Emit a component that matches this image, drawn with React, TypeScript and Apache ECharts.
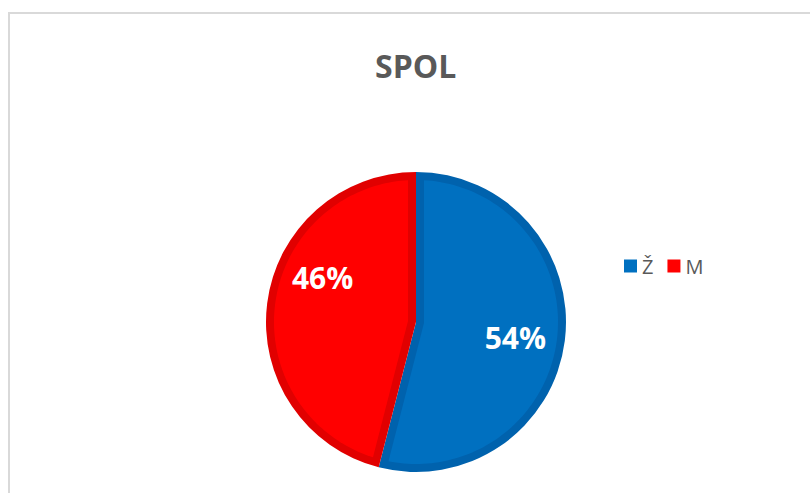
import React, { useEffect, useRef } from "react";
import * as echarts from "echarts";

const categories = ["Ž", "M"];
const values = [54, 46];
const titleText = "SPOL";

const fillColors = ["#0070C0", "#FF0000"];
const edgeColors = ["#0062AD", "#E10000"];

const CX = 416;
const CY = 322;
const R = 150;
const EDGE = 8;

export default function App() {
  const ref = useRef<HTMLDivElement>(null);

  useEffect(() => {
    if (!ref.current) return;
    const chart = echarts.init(ref.current, null, { renderer: "svg" });
    const total = values.reduce((a, b) => a + b, 0);

    const renderItem = (params: any, api: any) => {
      const i = params.dataIndex;
      let before = 0;
      for (let k = 0; k < i; k++) before += values[k];
      const v = api.value(0);
      const a1 = (before / total) * Math.PI * 2;
      const a2 = a1 + (v / total) * Math.PI * 2;
      const theta = a2 - a1;
      const rho = R - EDGE;
      const delta = Math.asin(EDGE / rho);
      const mid = (a1 + a2) / 2;
      const apex = EDGE / Math.sin(theta / 2);
      const pts: number[][] = [[CX + apex * Math.sin(mid), CY - apex * Math.cos(mid)]];
      const n = 120;
      for (let j = 0; j <= n; j++) {
        const a = a1 + delta + ((theta - 2 * delta) * j) / n;
        pts.push([CX + rho * Math.sin(a), CY - rho * Math.cos(a)]);
      }
      return {
        type: "polygon",
        shape: { points: pts },
        style: { fill: fillColors[i] },
        silent: true,
      };
    };

    const labelOffsets = [
      [22, 6],
      [-16, -35],
    ];

    chart.setOption({
      animation: false,
      backgroundColor: "#ffffff",
      title: {
        text: titleText,
        left: 375,
        top: 49,
        padding: 0,
        textStyle: {
          fontFamily: "Open Sans",
          fontWeight: "bold",
          fontSize: 32,
          color: "#595959",
        },
      },
      legend: {
        orient: "horizontal",
        left: 624,
        top: 256,
        padding: 0,
        itemWidth: 13,
        itemHeight: 13,
        itemGap: 14,
        icon: "rect",
        itemStyle: { borderWidth: 0 },
        textStyle: { fontFamily: "Open Sans", fontSize: 20, color: "#595959" },
        data: categories.map((c, i) => ({ name: c, itemStyle: { color: fillColors[i], borderWidth: 0 } })),
      },
      graphic: [
        {
          type: "rect",
          shape: { x: 9, y: 13, width: 900, height: 600 },
          style: { fill: "none", stroke: "#D9D9D9", lineWidth: 2 },
          silent: true,
          z: -10,
        },
      ],
      series: [
        {
          type: "pie",
          z: 1,
          center: [CX, CY],
          radius: R,
          startAngle: 90,
          clockwise: true,
          label: { show: false },
          labelLine: { show: false },
          itemStyle: { borderWidth: 0 },
          emphasis: { disabled: true },
          data: categories.map((c, i) => ({ name: c, value: values[i], itemStyle: { color: edgeColors[i] } })),
        },
        {
          type: "custom",
          coordinateSystem: "none",
          z: 2,
          renderItem,
          data: values.map((v) => [v]),
          silent: true,
        },
        {
          type: "pie",
          z: 3,
          center: [CX, CY],
          radius: R,
          startAngle: 90,
          clockwise: true,
          silent: true,
          legendHoverLink: false,
          labelLine: { show: false },
          emphasis: { disabled: true },
          itemStyle: { color: "rgba(0,0,0,0)", borderWidth: 0 },
          label: {
            show: true,
            position: "inside",
            formatter: "{d}%",
            fontFamily: "Open Sans",
            fontWeight: "bold",
            fontSize: 30,
            color: "#ffffff",
          },
          data: categories.map((c, i) => ({
            name: c,
            value: values[i],
            label: { offset: labelOffsets[i] },
          })),
        },
      ],
    });

    return () => chart.dispose();
  }, []);

  return (
    <div
      ref={ref}
      style={{ position: "absolute", left: 0, top: 0, width: 810, height: 493 }}
    />
  );
}
